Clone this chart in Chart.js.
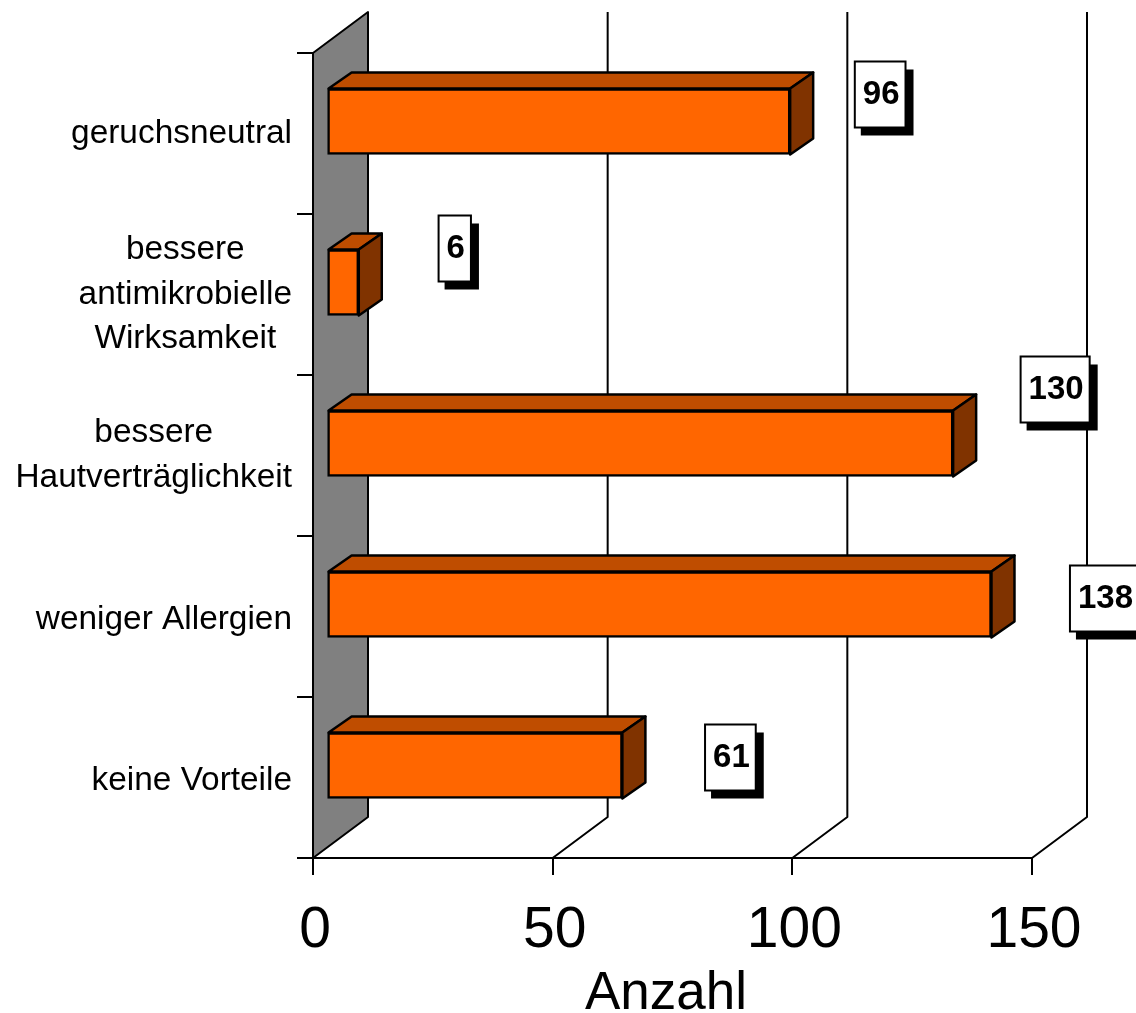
<!DOCTYPE html>
<html>
<head>
<meta charset="utf-8">
<title>Vorteile</title>
<script src="https://cdn.jsdelivr.net/npm/chart.js@4/dist/chart.umd.min.js"></script>
<style>
  html, body { margin: 0; padding: 0; background: #fff; overflow: hidden; }
  canvas { display: block; }
</style>
</head>
<body>
<canvas id="vorteileChart" width="1136" height="1013"></canvas>
<script>
const categories = [
    ['geruchsneutral'],
    ['bessere', 'antimikrobielle', 'Wirksamkeit'],
    ['bessere', 'Hautverträglichkeit'],
    ['weniger Allergien'],
    ['keine Vorteile']
];
const anzahl = [96, 6, 130, 138, 61];
const xTicks = [0, 50, 100, 150];
const xTitle = 'Anzahl';

// hand placed value boxes in the original, offset from the bar end
const boxOffsetX = [90, 96, 102, 113, 108];
const boxOffsetY = [-27, -34, -54, -6, -8];
const labelNudgeY = [0, 0, 0, 3, 3];

const FONT = '"Liberation Sans", Arial, sans-serif';
const DEPTH_X = 55, DEPTH_Y = 41;   // depth of the wall and floor
const BAR_X = 17, BAR_Y = 12;       // bars stand a bit in front of the axis plane
const BAR_DX = 23, BAR_DY = 16;     // depth of a bar

function poly(ctx, pts, fill) {
    ctx.beginPath();
    pts.forEach((p, i) => i ? ctx.lineTo(p[0], p[1]) : ctx.moveTo(p[0], p[1]));
    ctx.closePath();
    ctx.fillStyle = fill;
    ctx.fill();
    ctx.stroke();
}

const fake3d = {
    id: 'fake3d',
    beforeDatasetsDraw(chart) {
        const { ctx, chartArea: a, scales: { x } } = chart;
        ctx.save();
        ctx.strokeStyle = '#000';
        ctx.lineWidth = 2;
        ctx.lineJoin = 'round';

        // grey back wall
        poly(ctx, [[a.left, a.top], [a.left + DEPTH_X, a.top - DEPTH_Y],
            [a.left + DEPTH_X, a.bottom - DEPTH_Y], [a.left, a.bottom]], '#808080');

        // gridlines run over the floor and up the back
        xTicks.slice(1).forEach(t => {
            const px = x.getPixelForValue(t);
            ctx.beginPath();
            ctx.moveTo(px, a.bottom);
            ctx.lineTo(px + DEPTH_X, a.bottom - DEPTH_Y);
            ctx.lineTo(px + DEPTH_X, a.top - DEPTH_Y);
            ctx.stroke();
        });

        // top and side faces of the bars
        ctx.lineWidth = 2.5;
        chart.getDatasetMeta(0).data.forEach(bar => {
            const l = bar.base + BAR_X + 1, r = bar.x + BAR_X;
            const t = bar.y - bar.height / 2 - BAR_Y, b = bar.y + bar.height / 2 - BAR_Y;
            poly(ctx, [[l, t], [l + BAR_DX, t - BAR_DY], [r + BAR_DX, t - BAR_DY], [r, t]], '#bf4d00');
            poly(ctx, [[r, t], [r + BAR_DX, t - BAR_DY], [r + BAR_DX, b - BAR_DY], [r, b]], '#803300');
        });
        ctx.restore();

        // front faces are the real bars, just moved forward
        ctx.save();
        ctx.translate(BAR_X, -BAR_Y);
    },
    afterDatasetsDraw(chart) {
        const { ctx } = chart;
        ctx.restore();

        // value boxes with drop shadow
        ctx.save();
        ctx.font = 'bold 33px ' + FONT;
        ctx.textAlign = 'center';
        ctx.textBaseline = 'middle';
        chart.getDatasetMeta(0).data.forEach((bar, i) => {
            const txt = String(anzahl[i]);
            const w = ctx.measureText(txt).width + 14, h = 66;
            const cx = bar.x + BAR_X + boxOffsetX[i];
            const cy = bar.y - BAR_Y + boxOffsetY[i];
            ctx.fillStyle = '#000';
            ctx.fillRect(cx - w / 2 + 6, cy - h / 2 + 8, w + 2, h);
            ctx.fillStyle = '#fff';
            ctx.strokeStyle = '#000';
            ctx.lineWidth = 2;
            ctx.fillRect(cx - w / 2, cy - h / 2, w, h);
            ctx.strokeRect(cx - w / 2, cy - h / 2, w, h);
            ctx.fillStyle = '#000';
            ctx.fillText(txt, cx + 1, cy);
        });
        ctx.restore();
    },
    afterDraw(chart) {
        const { ctx, scales: { y } } = chart;
        ctx.save();
        ctx.fillStyle = '#000';
        ctx.textBaseline = 'middle';
        ctx.textAlign = 'center';

        // category labels: block is right aligned, its lines are centred
        ctx.font = '33.4px ' + FONT;
        categories.forEach((lines, i) => {
            const w = Math.max(...lines.map(s => ctx.measureText(s).width));
            const cy = y.getPixelForTick(i) + labelNudgeY[i];
            lines.forEach((s, k) => {
                ctx.fillText(s, 292 - w / 2, cy + (k - (lines.length - 1) / 2) * 44.5);
            });
        });

        ctx.font = '53px ' + FONT;
        ctx.textBaseline = 'alphabetic';
        ctx.fillText(xTitle, 666, 1009);
        ctx.restore();
    }
};

new Chart(document.getElementById('vorteileChart'), {
    type: 'bar',
    data: {
        labels: categories,
        datasets: [{
            data: anzahl,
            base: -0.5,
            clip: false,
            backgroundColor: '#ff6600',
            borderColor: '#000',
            borderWidth: 2.5,
            borderSkipped: false,
            barThickness: 66
        }]
    },
    options: {
        indexAxis: 'y',
        responsive: false,
        animation: false,
        layout: { padding: { top: 53, right: 104 } },
        plugins: { legend: { display: false }, tooltip: { enabled: false } },
        scales: {
            x: {
                min: 0,
                max: 150,
                afterFit(s) { s.height = 155; },
                afterBuildTicks(s) { s.ticks = xTicks.map(v => ({ value: v })); },
                border: { color: '#000', width: 2 },
                grid: { drawOnChartArea: false, color: '#000', lineWidth: 2, tickLength: 17 },
                ticks: {
                    color: '#000',
                    font: { family: FONT, size: 57 },
                    padding: 22,
                    labelOffset: 2,
                    maxRotation: 0,
                    autoSkip: false
                }
            },
            y: {
                afterFit(s) { s.width = 313; },
                border: { color: '#000', width: 2 },
                grid: { drawOnChartArea: false, color: '#000', lineWidth: 2, tickLength: 16 },
                ticks: { display: false }
            }
        }
    },
    plugins: [fake3d]
});
</script>
</body>
</html>
